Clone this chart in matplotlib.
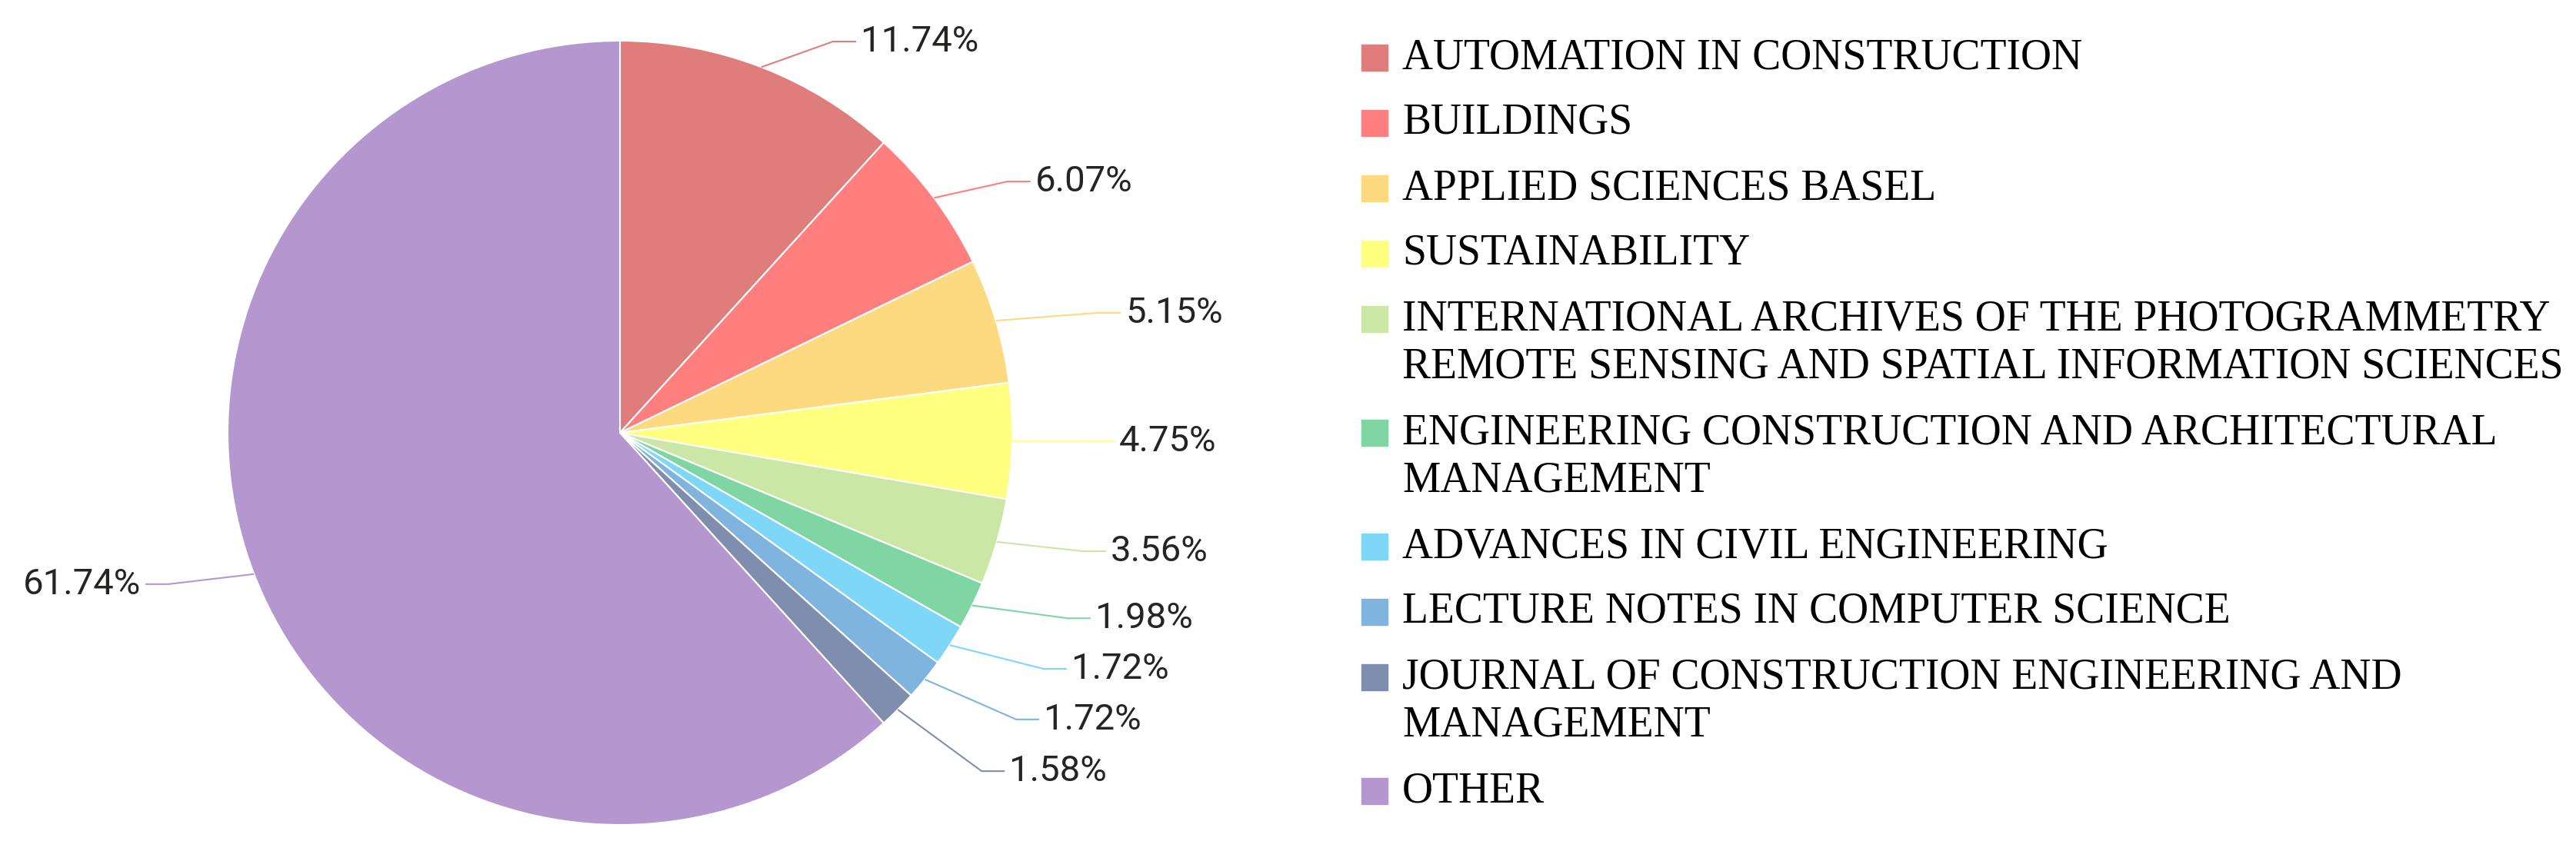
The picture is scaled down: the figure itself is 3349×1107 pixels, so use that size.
import matplotlib
matplotlib.use("Agg")
import matplotlib.pyplot as plt
from matplotlib.patches import Rectangle
import numpy as np

# data
journals = ["AUTOMATION IN CONSTRUCTION",
            "BUILDINGS",
            "APPLIED SCIENCES BASEL",
            "SUSTAINABILITY",
            "INTERNATIONAL ARCHIVES OF THE PHOTOGRAMMETRY\nREMOTE SENSING AND SPATIAL INFORMATION SCIENCES",
            "ENGINEERING CONSTRUCTION AND ARCHITECTURAL\nMANAGEMENT",
            "ADVANCES IN CIVIL ENGINEERING",
            "LECTURE NOTES IN COMPUTER SCIENCE",
            "JOURNAL OF CONSTRUCTION ENGINEERING AND\nMANAGEMENT",
            "OTHER"]
shares = [11.74, 6.07, 5.15, 4.75, 3.56, 1.98, 1.72, 1.72, 1.58, 61.74]
colors = ["#DF7D7D", "#FF7F7F", "#FDDA80", "#FFFF80", "#CAE7A6",
          "#7FD6A3", "#7FD7F7", "#7FB4DE", "#7F8EAE", "#B497CF"]

# label elbow points, in pie radius units from the centre (layout only)
elbow = [(0.543, 0.998), (0.988, 0.641), (1.218, 0.306), (1.202, -0.021),
         (1.180, -0.302), (1.141, -0.473), (1.080, -0.602), (1.010, -0.731),
         (0.922, -0.863), (-1.151, -0.386)]

W, H = 3349, 1107
cx, cy, r = 806, 544, 510

fig = plt.figure(figsize=(W / 100, H / 100), dpi=100)
ax = fig.add_axes([0, 0, 1, 1])
wedges, _ = ax.pie(shares, colors=colors, startangle=90, counterclock=False,
                   center=(cx, cy), radius=r,
                   wedgeprops=dict(edgecolor="white", linewidth=1.5))
ax.set_xlim(0, W)
ax.set_ylim(0, H)
ax.axis("off")

# data labels with leader lines
for w, val, col, (ex, ey) in zip(wedges, shares, colors, elbow):
    ang = np.deg2rad((w.theta1 + w.theta2) / 2)
    x0, y0 = cx + r * np.cos(ang), cy + r * np.sin(ang)
    x1, y1 = cx + ex * r, cy + ey * r
    side = 1 if ex > 0 else -1
    x2 = x1 + side * 30
    ax.plot([x0, x1, x2], [y0, y1, y1], color=col, lw=1.5, solid_capstyle="butt")
    ax.text(x2 + side * 6, y1, "%.2f%%" % val, fontsize=34, family="Roboto",
            color="#252423", va="center", ha="left" if side > 0 else "right")

# legend drawn by hand so the marker sits on the first line
ly = H - 75
for name, col in zip(journals, colors):
    lines = name.split("\n")
    ax.add_patch(Rectangle((1770, ly - 17), 34, 34, color=col, clip_on=False))
    for i, ln in enumerate(lines):
        ax.text(1823, ly - i * 63, ln, fontsize=40, family="Liberation Serif",
                color="black", va="center", ha="left")
    ly -= (len(lines) - 1) * 63 + 85

fig.savefig("out.png", dpi=100, facecolor="white")
